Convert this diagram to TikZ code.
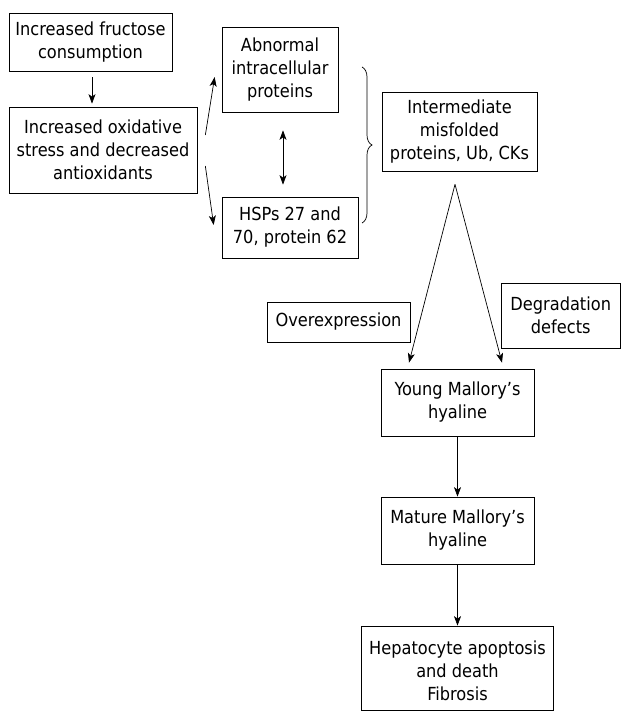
\documentclass[tikz,border=0pt]{standalone}
\usepackage{fontspec}
\setmainfont{DejaVu Sans Condensed}
\usetikzlibrary{arrows.meta,calc,decorations.pathreplacing}
\begin{document}
\begin{tikzpicture}[x=1pt,y=-1pt,
  box/.style={draw=black,line width=0.7pt,inner sep=0pt,align=center,
    font=\fontsize{18}{23}\selectfont},
  tip/.tip={Stealth[length=9.5pt,width=7pt,inset=2.5pt]},
  arr/.style={-tip,line width=0.7pt},
  darr/.style={tip-tip,line width=0.7pt},
  plain/.style={line width=0.7pt}]
\useasboundingbox (0,0) rectangle (621,711);
\node[box,minimum width=163pt,minimum height=58pt] (b1) at (90.5,42) {Increased fructose\\consumption};
\node[box,minimum width=188pt,minimum height=86pt] (b2) at (103,150) {Increased oxidative\\stress and decreased\\antioxidants};
\node[box,minimum width=116pt,minimum height=85pt] (b3) at (280,69.5) {Abnormal\\intracellular\\proteins};
\node[box,minimum width=136pt,minimum height=61pt] (b4) at (290,227.5) {HSPs 27 and\\70, protein 62};
\node[box,minimum width=155pt,minimum height=79pt] (b5) at (459.5,131.5) {Intermediate\\misfolded\\proteins, Ub, CKs};
\node[box,minimum width=143pt,minimum height=40pt] (over) at (338.5,322) {Overexpression};
\node[box,minimum width=119.5pt,minimum height=65pt] (degr) at (560.75,315.5) {Degradation\\defects};
\node[box,minimum width=153pt,minimum height=67pt] (young) at (457.5,402.5) {Young Mallory’s\\hyaline};
\node[box,minimum width=153pt,minimum height=67pt] (mature) at (457.5,530.5) {Mature Mallory’s\\hyaline};
\node[box,minimum width=192pt,minimum height=84pt] (hep) at (457.5,668) {\rule{0pt}{20pt}Hepatocyte apoptosis\\and death\\Fibrosis};
% arrows
\draw[arr] ($(b1.south)+(1.5,6)$) -- ($(b2.north)+(-11,-3)$);
\draw[arr] ($(b2.east)+(8,-15)$) -- ($(b3.west)+(-7,7.5)$);
\draw[arr] ($(b2.east)+(8,16)$) -- ($(b4.west)+(-8,-2.5)$);
\coordinate (dtop) at ($(b3.south)+(3,18)$);
\coordinate (dbot) at ($(b4.north)+(-7,-12)$);
\draw[darr] (dtop) -- (dbot);
\draw[plain,decorate,decoration={brace,amplitude=10pt}] (362,67) -- (362,223);
\coordinate (apex) at ($(b5.south)+(-4.5,13)$);
\draw[arr] (apex) -- ($(young.north)+(-48.5,-6)$);
\draw[arr] (apex) -- ($(young.north)+(44.5,-6)$);
\draw[arr] (young.south) -- (mature.north);
\draw[arr] (mature.south) -- (hep.north);
\end{tikzpicture}
\end{document}
